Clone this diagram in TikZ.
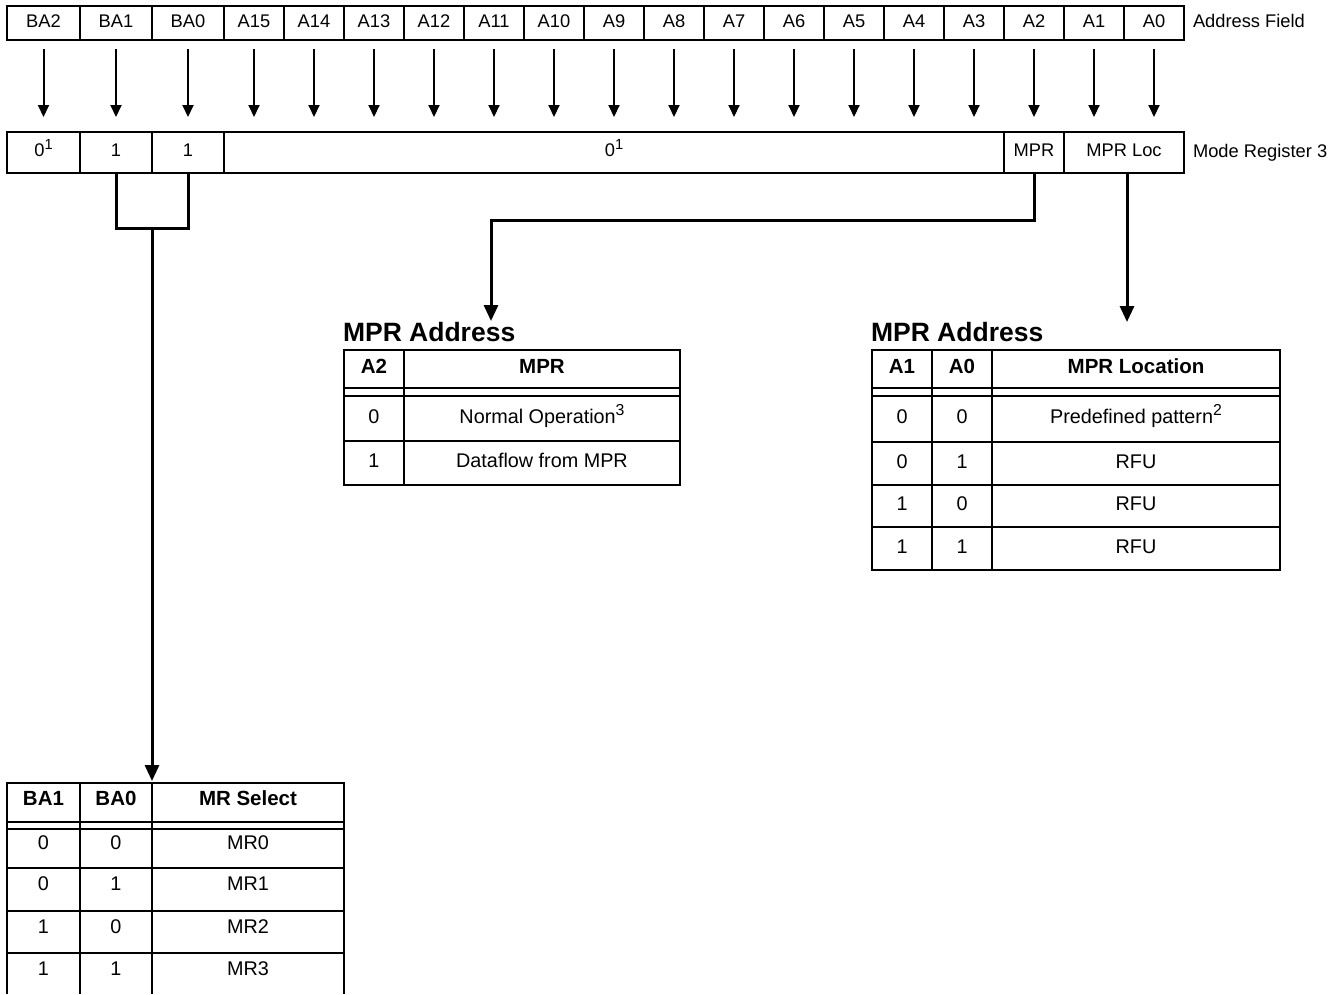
\documentclass[tikz,border=0pt]{standalone}
\usepackage{fontspec}
\setmainfont{Liberation Sans}
\usetikzlibrary{arrows.meta,calc}
\newcommand{\regfont}{\fontsize{18.3}{22}\selectfont}
\newcommand{\tabfont}{\fontsize{19.8}{23}\selectfont}
\newcommand{\headfont}{\fontsize{20.5}{24}\selectfont\bfseries}
\newcommand{\ttlfont}{\fontsize{26.5}{30}\selectfont\bfseries}
\newcommand{\sups}[1]{\raisebox{0.38em}{\fontsize{0.8em}{1em}\selectfont #1}}
\begin{document}
\begin{tikzpicture}[x=1pt,y=-1pt,
  sz/.style 2 args={minimum width=#1pt, minimum height=#2pt},
  cellbase/.style={draw, line width=2pt, inner sep=0pt, outer sep=0pt, anchor=north west},
  reg/.style={cellbase, font=\regfont, text height=13pt, text depth=5pt},
  tab/.style={cellbase, font=\tabfont, text height=14pt, text depth=5pt},
  tabhead/.style={tab, font=\headfont},
  tabthree/.style={tab, text depth=12pt},
  headthree/.style={tabhead, text depth=8pt},
  gapcell/.style={cellbase, text height=0pt, text depth=0pt},
  lbl/.style={inner sep=0pt, outer sep=0pt, anchor=base west, font=\regfont},
  ttl/.style={inner sep=0pt, outer sep=0pt, anchor=base west, font=\ttlfont},
  thinarr/.style={line width=2pt, -{Triangle[width=11pt,length=12pt]}},
  conn/.style={line width=3pt},
  connarr/.style={conn, -{Triangle[width=14pt,length=16pt]}}
]
\clip (0,0) rectangle (1341,994);
\fill[white] (0,0) rectangle (1341,994);

% ---- Address field row
\node[reg, sz={73}{34}] (ba2) at (7,6) {BA2};
\node[reg, sz={72}{34}] (ba1) at (80,6) {BA1};
\node[reg, sz={72}{34}] (ba0) at (152,6) {BA0};
\foreach \i in {15,...,0} {
  \pgfmathsetmacro\xx{224+60*(15-\i)}
  \node[reg, sz={60}{34}] (a\i) at (\xx,6) {A\i};
}
\node[lbl] (af) at (1193,27) {Address Field};

% ---- Mode register row
\node[reg, sz={73}{41}] (c0) at (7,132) {0\sups{1}};
\node[reg, sz={72}{41}] (c1) at (80,132) {1};
\node[reg, sz={72}{41}] (c2) at (152,132) {1};
\node[reg, sz={780}{41}] (c3) at (224,132) {0\sups{1}};
\node[reg, sz={60}{41}] (mpr) at (1004,132) {MPR};
\node[reg, sz={120}{41}] (mprloc) at (1064,132) {MPR Loc};
\node[lbl] (mr3) at (1193,157) {Mode Register 3};

% ---- arrows between rows
\foreach \n in {ba2,ba1,ba0} {
  \draw[thinarr] ([yshift=-9pt]\n.south) -- ($(\n.south |- c3.north)+(0,-15)$);
}
\foreach \i in {15,...,0} {
  \draw[thinarr] ([yshift=-9pt]a\i.south) -- ($(a\i.south |- c3.north)+(0,-15)$);
}

% ---- Table 1
\node[ttl] (t1t) at (343,341) {MPR Address};
\node[tabhead, sz={60}{38}] (t1h1) at (344,350) {A2};
\node[tabhead, sz={276}{38}] (t1h2) at (404,350) {MPR};
\node[gapcell, sz={60}{8}] (t1g1) at (344,388) {};
\node[gapcell, sz={276}{8}] (t1g2) at (404,388) {};
\node[tab, sz={60}{45}] (t1r1a) at (344,396) {0};
\node[tab, sz={276}{45}] (t1r1b) at (404,396) {Normal Operation\sups{3}};
\node[tab, sz={60}{44}] (t1r2a) at (344,441) {1};
\node[tab, sz={276}{44}] (t1r2b) at (404,441) {Dataflow from MPR};

% ---- Table 2
\node[ttl] (t2t) at (871,341) {MPR Address};
\node[tabhead, sz={60}{38}] (t2h1) at (872,350) {A1};
\node[tabhead, sz={60}{38}] (t2h2) at (932,350) {A0};
\node[tabhead, sz={288}{38}] (t2h3) at (992,350) {MPR Location};
\node[gapcell, sz={60}{8}] (t2g1) at (872,388) {};
\node[gapcell, sz={60}{8}] (t2g2) at (932,388) {};
\node[gapcell, sz={288}{8}] (t2g3) at (992,388) {};
\node[tab, sz={60}{46}] (t2r1a) at (872,396) {0};
\node[tab, sz={60}{46}] (t2r1b) at (932,396) {0};
\node[tab, sz={288}{46}] (t2r1c) at (992,396) {Predefined pattern\sups{2}};
\node[tab, sz={60}{43}] (t2r2a) at (872,442) {0};
\node[tab, sz={60}{43}] (t2r2b) at (932,442) {1};
\node[tab, sz={288}{43}] (t2r2c) at (992,442) {RFU};
\node[tab, sz={60}{42}] (t2r3a) at (872,485) {1};
\node[tab, sz={60}{42}] (t2r3b) at (932,485) {0};
\node[tab, sz={288}{42}] (t2r3c) at (992,485) {RFU};
\node[tab, sz={60}{43}] (t2r4a) at (872,527) {1};
\node[tab, sz={60}{43}] (t2r4b) at (932,527) {1};
\node[tab, sz={288}{43}] (t2r4c) at (992,527) {RFU};

% ---- Table 3
\node[headthree, sz={73}{39}] (t3h1) at (7,783) {BA1};
\node[headthree, sz={72}{39}] (t3h2) at (80,783) {BA0};
\node[headthree, sz={192}{39}] (t3h3) at (152,783) {MR Select};
\node[gapcell, sz={73}{7}] (t3g1) at (7,822) {};
\node[gapcell, sz={72}{7}] (t3g2) at (80,822) {};
\node[gapcell, sz={192}{7}] (t3g3) at (152,822) {};
\node[tabthree, sz={73}{39}] (t3r1a) at (7,829) {0};
\node[tabthree, sz={72}{39}] (t3r1b) at (80,829) {0};
\node[tabthree, sz={192}{39}] (t3r1c) at (152,829) {MR0};
\node[tabthree, sz={73}{43}] (t3r2a) at (7,868) {0};
\node[tabthree, sz={72}{43}] (t3r2b) at (80,868) {1};
\node[tabthree, sz={192}{43}] (t3r2c) at (152,868) {MR1};
\node[tabthree, sz={73}{42}] (t3r3a) at (7,911) {1};
\node[tabthree, sz={72}{42}] (t3r3b) at (80,911) {0};
\node[tabthree, sz={192}{42}] (t3r3c) at (152,911) {MR2};
\node[tabthree, sz={73}{42}] (t3r4a) at (7,953) {1};
\node[tabthree, sz={72}{42}] (t3r4b) at (80,953) {1};
\node[tabthree, sz={192}{42}] (t3r4c) at (152,953) {MR3};
% bottom edge lies below the picture's lower border
\fill[white] (0,994) rectangle (1341,1010);

% ---- connectors
\draw[conn] (c1.south) -- ++(0,55) -| (c2.south);
\coordinate (brk) at (152,228);
\draw[connarr] (brk) -- ([yshift=2pt]t3h2.north east);

\coordinate (t1tip) at (491,321);
\draw[connarr] (mpr.south) -- ++(0,47) -| (t1tip);

\coordinate (t2tip) at (1127,322);
\draw[connarr] (mprloc.south -| t2tip) -- (t2tip);
\end{tikzpicture}
\end{document}
